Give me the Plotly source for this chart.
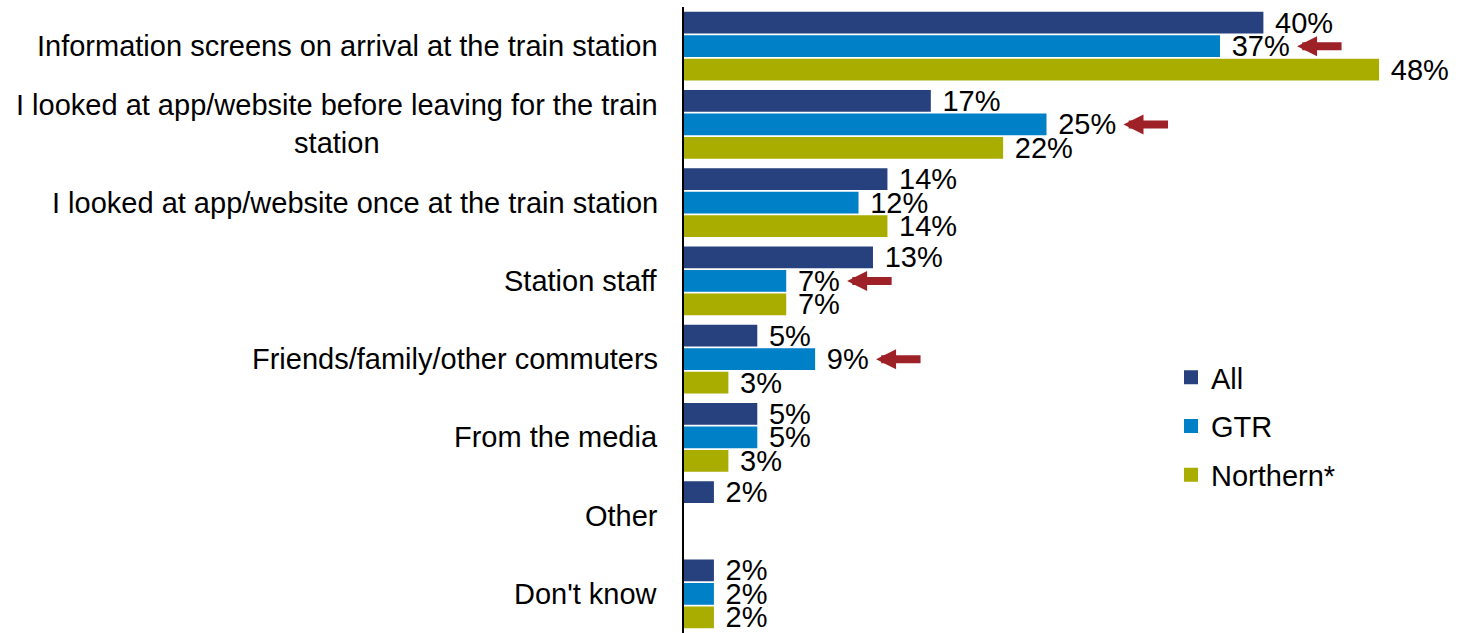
import plotly.graph_objects as go

categories = [
    "Information screens on arrival at the train station",
    "I looked at app/website before leaving for the train<br>station",
    "I looked at app/website once at the train station",
    "Station staff",
    "Friends/family/other commuters",
    "From the media",
    "Other",
    "Don't know",
]
all_vals = [40, 17, 14, 13, 5, 5, 2, 2]
gtr_vals = [37, 25, 12, 7, 9, 5, None, 2]
northern_vals = [48, 22, 14, 7, 3, 3, None, 2]
series_names = ["All", "GTR", "Northern*"]
series_colors = ["#27417F", "#0080C6", "#A8AD00"]
# categories where the GTR figure is highlighted with an arrow
flagged = [0, 1, 3, 4]

FONT = "Liberation Sans, Arial, sans-serif"
FS = 29
W, H = 1460, 633
L, R, T, B = 684, 53, 7, 0
XMAX = 50

fig = go.Figure()
for i, (name, vals, col) in enumerate(zip(series_names, [all_vals, gtr_vals, northern_vals], series_colors)):
    fig.add_trace(go.Bar(
        y=categories,
        x=vals,
        orientation="h",
        name=name,
        legendgroup=name,
        marker=dict(color=col, line=dict(color=col, width=2)),
        text=[("\u2004" + f"{v}%") if v is not None else "" for v in vals],
        textposition="outside",
        textfont=dict(family=FONT, size=FS, color="black"),
        constraintext="none",
        cliponaxis=False,
        hoverinfo="skip",
    ))

# category labels, right-aligned beside the axis, multi-line ones centred
for c in categories:
    fig.add_annotation(
        x=0, xref="paper", y=c, yref="y",
        text=c, showarrow=False,
        xanchor="right", yanchor="middle", align="center",
        xshift=-24,
        font=dict(family=FONT, size=FS, color="black"),
    )

# red arrows pointing at the highlighted GTR labels
for idx in flagged:
    v = gtr_vals[idx]
    label_w = (0.556 * len(str(v)) + 0.889) * FS
    fig.add_annotation(
        x=v, xref="x", y=categories[idx], yref="y",
        text="", showarrow=True,
        xshift=16 + label_w + 4,
        ax=46, ay=0,
        arrowhead=2, arrowsize=0.5, arrowwidth=8,
        arrowcolor="#9E2128", standoff=0,
    )

plot_h = H - T - B
fig.update_layout(
    width=W, height=H, autosize=False,
    margin=dict(l=L, r=R, t=T, b=B, pad=0, autoexpand=False),
    paper_bgcolor="white", plot_bgcolor="white",
    barmode="group", bargap=0.1, bargroupgap=0.16,
    font=dict(family=FONT, size=FS, color="black"),
    showlegend=True,
    legend=dict(
        x=(1171 - L) / (W - L - R), y=(H - 352) / plot_h,
        xanchor="left", yanchor="top",
        traceorder="grouped", tracegroupgap=8,
        font=dict(family=FONT, size=FS, color="black"),
        bgcolor="rgba(0,0,0,0)",
    ),
    xaxis=dict(range=[0, XMAX], showgrid=False, zeroline=False,
               showticklabels=False, showline=False, fixedrange=True),
    yaxis=dict(autorange="reversed", showgrid=False, zeroline=False,
               showticklabels=False, showline=True, linecolor="black",
               linewidth=1.5, ticks="", fixedrange=True),
)

fig.write_html("out.html")
